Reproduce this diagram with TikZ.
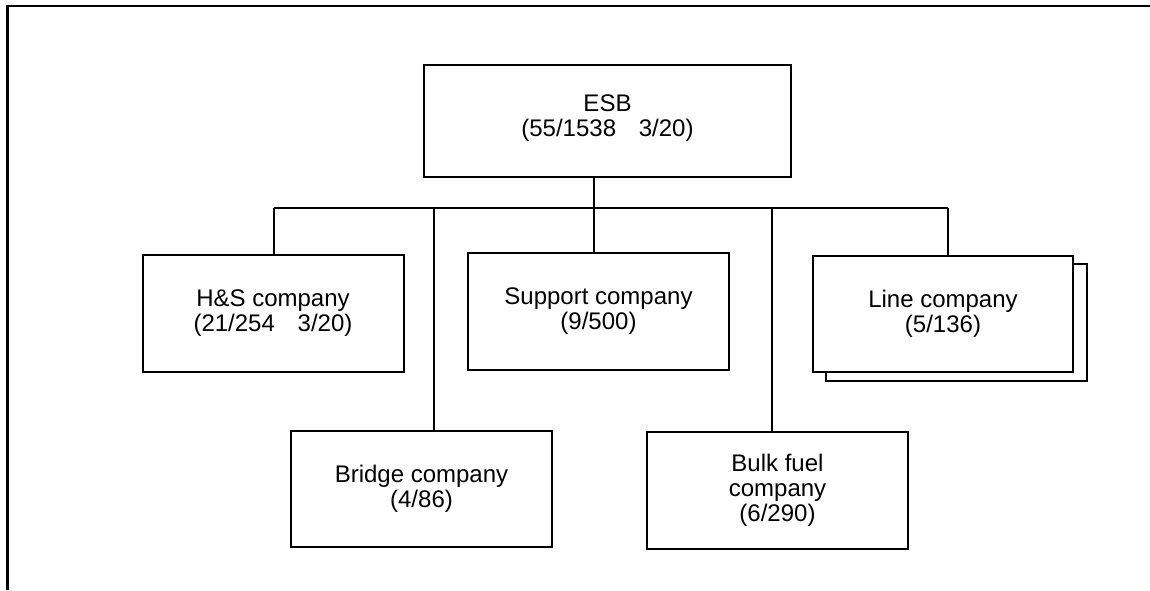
\documentclass[tikz,border=0pt]{standalone}
\usepackage{fontspec}
\setmainfont{Liberation Sans}
\usetikzlibrary{calc}

\begin{document}
\begin{tikzpicture}[x=1pt,y=-1pt,
  unitbox/.style={draw,line width=2pt,fill=white,align=center,inner sep=0pt,
    minimum width=261pt,minimum height=117pt,
    font=\fontsize{24}{25}\selectfont},
  link/.style={line width=1.7pt}]
\useasboundingbox (0,0) rectangle (1150,590);
\draw[line width=2.6pt] (1150,6) -- (7.5,6) -- (7.5,590);

\node[unitbox,minimum width=367pt,minimum height=112pt] (esb) at (607.5,121)
  {ESB\\(55/1538\hspace{0.95em}3/20)\\[-14pt]};
\node[unitbox] (hs) at (273,313.5) {H\&S company\\(21/254\hspace{0.95em}3/20)};
\node[unitbox] (sup) at (598.5,311.5) {Support company\\(9/500)};
\node[unitbox] (lcback) at (956,322) {};
\node[unitbox,minimum width=260pt,minimum height=116pt] (lc) at (943,314)
  {Line company\\(5/136)};
\node[unitbox,minimum height=116pt] (br) at (421.5,489) {Bridge company\\(4/86)};
\node[unitbox] (bf) at (777.5,490.5) {Bulk fuel\\company\\(6/290)};

\coordinate (jHS) at (274,208);
\coordinate (jBr) at (434,208);
\coordinate (jSup) at (594,208);
\coordinate (jBf) at (772,208);
\coordinate (jLC) at (948,208);

\draw[link] (jHS) -- (jLC);
\draw[link] (esb.south -| jSup) -- (sup.north -| jSup);
\draw[link] (jHS) -- (hs.north -| jHS);
\draw[link] (jBr) -- (br.north -| jBr);
\draw[link] (jBf) -- (bf.north -| jBf);
\draw[link] (jLC) -- (lc.north -| jLC);

\end{tikzpicture}
\end{document}
